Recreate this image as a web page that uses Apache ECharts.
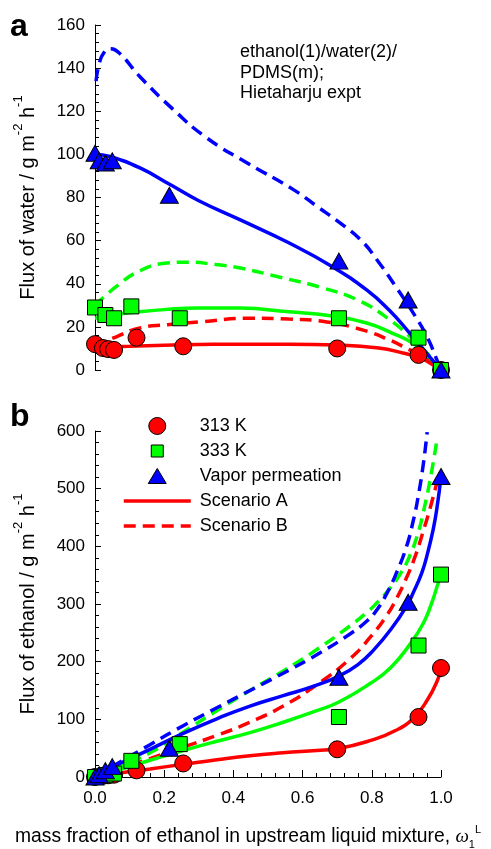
<!DOCTYPE html>
<html>
<head>
<meta charset="utf-8">
<script src="https://cdn.jsdelivr.net/npm/echarts@6/dist/echarts.min.js"></script>
<style>
  html, body { margin: 0; padding: 0; background: #fff; }
  #chart { width: 491px; height: 849px; }
</style>
</head>
<body>
<div id="chart"></div>
<script>
// ---- measured points (x = mass fraction of ethanol) ----
const x313 = [0, 0.023, 0.038, 0.055, 0.12, 0.255, 0.70, 0.935, 1.0];
const x333 = [0, 0.03, 0.055, 0.105, 0.245, 0.705, 0.935, 1.0];
const xVap = [0, 0.012, 0.03, 0.05, 0.215, 0.705, 0.905, 1.0];

// panel a: flux of water
const water313 = [12, 10.2, 9.7, 9.3, 15, 11, 10, 7, 0];
const water333 = [29, 25.5, 24, 29.5, 24, 24, 15, 0];
const waterVap = [100.5, 97, 96, 97, 81, 50.5, 32.5, 0];

// panel b: flux of ethanol
const ethanol313 = [0, 2, 3, 4, 11.5, 23.5, 48, 104, 189];
const ethanol333 = [0, 3, 6, 28, 57, 104, 228, 351];
const ethanolVap = [0, 4, 11, 18, 50, 173, 303, 521];

// ---- model curves [x, flux] ----
const waterRedA = [[0, 10.5], [0.05, 10.8], [0.1, 11], [0.2, 11.5], [0.3, 11.8], [0.45, 12], [0.56, 12], [0.7, 11.6], [0.82, 10.2], [0.89, 7.9], [0.94, 5.6], [0.977, 2.3], [1, 0]];
const waterRedB = [[0, 11], [0.06, 15.3], [0.13, 19.5], [0.21, 21], [0.3, 22.3], [0.45, 24], [0.56, 23.6], [0.67, 22.3], [0.775, 18.5], [0.85, 14], [0.91, 9.3], [0.96, 5.6], [1, 0]];
const waterGreenA = [[0, 24], [0.05, 25.5], [0.1, 26.5], [0.2, 28], [0.3, 28.8], [0.42, 28.7], [0.56, 27], [0.68, 25.2], [0.785, 21.8], [0.86, 17], [0.92, 12.3], [0.96, 7], [1, 0]];
const waterGreenB = [[0, 30], [0.06, 38.5], [0.13, 46], [0.21, 49.6], [0.265, 50], [0.35, 48.9], [0.42, 47.3], [0.535, 43], [0.66, 38], [0.765, 32], [0.85, 23.5], [0.92, 14], [0.97, 6], [1, 0]];
const waterBlueA = [[0, 100], [0.043, 99], [0.13, 93.7], [0.217, 86], [0.3, 78.5], [0.42, 69.6], [0.56, 59], [0.685, 48], [0.786, 37], [0.85, 27.8], [0.91, 17], [0.96, 7.5], [0.99, 1.8], [1, 0]];
const waterBlueB = [[0.003, 134], [0.012, 142], [0.025, 147], [0.043, 149], [0.07, 147], [0.13, 136], [0.225, 121], [0.32, 108], [0.44, 96], [0.57, 84], [0.645, 75.5], [0.71, 68], [0.77, 60], [0.82, 50], [0.87, 38.5], [0.92, 26.4], [0.96, 15.3], [0.99, 4], [1, 0]];

const ethRedA = [[0, 0], [0.05, 5], [0.12, 11], [0.159, 14], [0.255, 22], [0.352, 30], [0.448, 37], [0.544, 42], [0.641, 46], [0.7, 49], [0.8, 64], [0.87, 81], [0.92, 102], [0.96, 133], [0.99, 168], [1, 189]];
const ethRedB = [[0, 0], [0.05, 10], [0.159, 32], [0.255, 52], [0.352, 72], [0.448, 95], [0.544, 123], [0.641, 160], [0.737, 205], [0.795, 242], [0.843, 280], [0.872, 310], [0.9, 345], [0.925, 382], [0.948, 425], [0.968, 465], [0.99, 515]];
const ethGreenA = [[0, 0], [0.05, 9], [0.159, 29], [0.255, 46], [0.352, 62], [0.448, 77], [0.544, 95], [0.641, 115], [0.705, 130], [0.795, 162], [0.855, 190], [0.91, 230], [0.95, 268], [0.975, 305], [0.99, 333], [1, 351]];
const ethGreenB = [[0, 0], [0.05, 12], [0.159, 42], [0.255, 78], [0.352, 115], [0.448, 150], [0.544, 184], [0.641, 221], [0.737, 262], [0.785, 285], [0.815, 302], [0.843, 320], [0.882, 352], [0.91, 384], [0.934, 424], [0.953, 470], [0.973, 530], [0.988, 584]];
const ethBlueA = [[0, 0], [0.05, 17], [0.159, 48], [0.255, 75.6], [0.352, 101], [0.448, 123], [0.544, 141], [0.63, 157], [0.705, 175], [0.76, 195], [0.805, 220], [0.86, 260], [0.9, 296], [0.92, 320], [0.945, 355], [0.962, 390], [0.977, 428], [0.988, 465], [1, 521]];
const ethBlueB = [[0, 0], [0.05, 18], [0.159, 56], [0.255, 89], [0.352, 120], [0.448, 150], [0.544, 180], [0.641, 212], [0.737, 248], [0.785, 270], [0.815, 290], [0.843, 318], [0.872, 355], [0.9, 399], [0.92, 445], [0.934, 486], [0.949, 543], [0.96, 598]];

const yTicksWater = [0, 160, 20];
const yTicksEthanol = [0, 600, 100];
const xTicks = [0, 1, 0.2];

const RED = '#ff0000', GREEN = '#00ff00', BLUE = '#0000ff';
const FONT = '"Liberation Sans", Arial, sans-serif';
const DASH = [12, 7];

function zip(xs, ys) {
    return xs.map((x, i) => [x, ys[i]]);
}

function curve(name, idx, data, color, dashed) {
    return {
        name: name,
        type: 'line',
        xAxisIndex: idx,
        yAxisIndex: idx,
        data: data,
        smooth: 0.5,
        showSymbol: false,
        symbol: 'none',
        lineStyle: { color: color, width: 3.5, type: dashed ? DASH : 'solid' },
        itemStyle: { color: color },
        z: 2
    };
}

function points(name, idx, data, color, symbol, size) {
    return {
        name: name,
        type: 'scatter',
        xAxisIndex: idx,
        yAxisIndex: idx,
        data: data,
        symbol: symbol,
        symbolSize: size,
        clip: false,
        itemStyle: { color: color, borderColor: '#000', borderWidth: 1, opacity: 1 },
        z: 3
    };
}

function yAxis(idx, ticks, title) {
    return {
        type: 'value',
        gridIndex: idx,
        min: ticks[0], max: ticks[1], interval: ticks[2],
        axisLine: { show: true, lineStyle: { color: '#000', width: 1 } },
        axisTick: { show: true, inside: true, length: 6, lineStyle: { color: '#000' } },
        minorTick: { show: true, splitNumber: 5, length: 4, lineStyle: { color: '#000' } },
        splitLine: { show: false },
        axisLabel: { fontSize: 17, color: '#000', fontFamily: FONT, margin: 10 },
        name: '{n|' + title + ' / g m}{s|-2}{n| h}{s|-1}',
        nameLocation: 'middle',
        nameRotate: 90,
        nameGap: 57,
        nameTextStyle: {
            fontFamily: FONT, color: '#000',
            rich: {
                n: { fontSize: 20, fontFamily: FONT, color: '#000', lineHeight: 26, verticalAlign: 'bottom' },
                s: { fontSize: 13, fontFamily: FONT, color: '#000', lineHeight: 14, verticalAlign: 'top' }
            }
        }
    };
}

const chart = echarts.init(document.getElementById('chart'), null, { renderer: 'canvas' });

chart.setOption({
    animation: false,
    backgroundColor: '#fff',
    grid: [
        { left: 95, top: 25, width: 346, height: 345 },
        { left: 95, top: 431, width: 346, height: 346 }
    ],
    xAxis: [
        { type: 'value', gridIndex: 0, min: xTicks[0], max: xTicks[1], interval: xTicks[2], show: false },
        {
            type: 'value', gridIndex: 1, min: xTicks[0], max: xTicks[1], interval: xTicks[2],
            axisLine: { show: true, onZero: false, lineStyle: { color: '#000', width: 1 } },
            axisTick: { show: true, inside: true, length: 7, lineStyle: { color: '#000' } },
            minorTick: { show: true, splitNumber: 5, length: 4, lineStyle: { color: '#000' } },
            splitLine: { show: false },
            axisLabel: { fontSize: 17, color: '#000', fontFamily: FONT, margin: 13, formatter: v => v.toFixed(1) }
        }
    ],
    yAxis: [
        yAxis(0, yTicksWater, 'Flux of water'),
        yAxis(1, yTicksEthanol, 'Flux of ethanol')
    ],
    legend: {
        orient: 'vertical',
        left: 117, top: 412,
        itemWidth: 67, itemHeight: 17, itemGap: 7,
        selectedMode: false,
        lineStyle: { width: 3.5 },
        textStyle: { fontSize: 18, lineHeight: 17, color: '#000', fontFamily: FONT, padding: [0, 0, 0, 4] },
        data: [
            { name: '313 K', itemStyle: { borderWidth: 1, borderColor: '#000' } },
            { name: '333 K', icon: 'path://M0,0M17,17M2.5,2.5h12v12h-12z', itemStyle: { borderWidth: 1, borderColor: '#000' } },
            { name: 'Vapor permeation', icon: 'path://M0,0M18,17M9,1L18,16H0Z', itemStyle: { borderWidth: 1, borderColor: '#000' } },
            { name: 'Scenario A', itemStyle: { opacity: 0 } },
            { name: 'Scenario B', itemStyle: { opacity: 0 } }
        ]
    },
    graphic: [
        { type: 'text', left: 10, top: 11, style: { text: 'a', fontSize: 32, fontWeight: 'bold', fontFamily: FONT, fill: '#000' } },
        { type: 'text', left: 10, top: 401, style: { text: 'b', fontSize: 32, fontWeight: 'bold', fontFamily: FONT, fill: '#000' } },
        {
            type: 'text', left: 240, top: 42,
            style: { text: 'ethanol(1)/water(2)/\nPDMS(m);\nHietaharju expt', fontSize: 18, lineHeight: 20.5, fontFamily: FONT, fill: '#000' }
        },
        {
            type: 'text', left: 15, top: 824,
            style: {
                text: '{n|mass fraction of ethanol in upstream liquid mixture, }{w|ω}{b|1}{t|L}',
                rich: {
                    n: { fontSize: 19.3, fontFamily: FONT, fill: '#000', lineHeight: 26, verticalAlign: 'middle' },
                    w: { fontSize: 19, fontFamily: '"Liberation Serif", serif', fontStyle: 'italic', fill: '#000', lineHeight: 26, verticalAlign: 'middle' },
                    b: { fontSize: 11, fontFamily: FONT, fill: '#000', lineHeight: 12, verticalAlign: 'bottom' },
                    t: { fontSize: 11, fontFamily: FONT, fill: '#000', lineHeight: 12, verticalAlign: 'top' }
                }
            }
        }
    ],
    series: [
        curve('Scenario A', 0, waterRedA, RED, false),
        curve('Scenario B', 0, waterRedB, RED, true),
        curve('333 K A', 0, waterGreenA, GREEN, false),
        curve('333 K B', 0, waterGreenB, GREEN, true),
        curve('Vapor A', 0, waterBlueA, BLUE, false),
        curve('Vapor B', 0, waterBlueB, BLUE, true),
        points('313 K', 0, zip(x313, water313), RED, 'circle', 17),
        points('333 K', 0, zip(x333, water333), GREEN, 'rect', 15),
        points('Vapor permeation', 0, zip(xVap, waterVap), BLUE, 'triangle', [18, 16]),

        curve('Scenario A', 1, ethRedA, RED, false),
        curve('Scenario B', 1, ethRedB, RED, true),
        curve('333 K A', 1, ethGreenA, GREEN, false),
        curve('333 K B', 1, ethGreenB, GREEN, true),
        curve('Vapor A', 1, ethBlueA, BLUE, false),
        curve('Vapor B', 1, ethBlueB, BLUE, true),
        points('313 K', 1, zip(x313, ethanol313), RED, 'circle', 17),
        points('333 K', 1, zip(x333, ethanol333), GREEN, 'rect', 15),
        points('Vapor permeation', 1, zip(xVap, ethanolVap), BLUE, 'triangle', [18, 16])
    ]
});

window.addEventListener('resize', () => {
    chart && chart.resize();
});
</script>
</body>
</html>
